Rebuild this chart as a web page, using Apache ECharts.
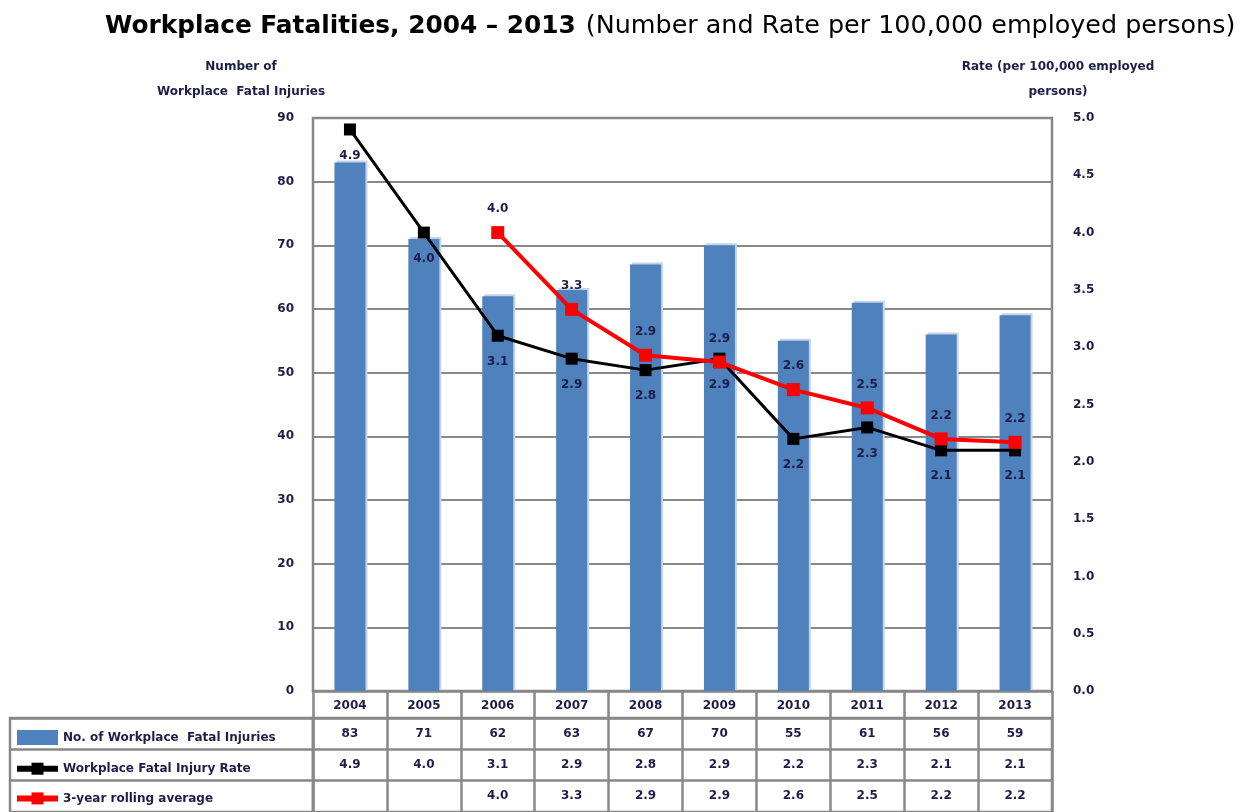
<!DOCTYPE html>
<html>
<head>
<meta charset="utf-8">
<title>Workplace Fatalities, 2004 – 2013</title>
<script src="https://cdn.jsdelivr.net/npm/echarts@6/dist/echarts.min.js"></script>
<style>
  html, body { margin: 0; padding: 0; background: #fff; }
  #chart { width: 1250px; height: 812px; }
</style>
</head>
<body>
<div id="chart"></div>
<script>
// values
var years = ['2004', '2005', '2006', '2007', '2008', '2009', '2010', '2011', '2012', '2013'];
var fatalInjuries = [83, 71, 62, 63, 67, 70, 55, 61, 56, 59];
var injuryRate = [4.9, 4.0, 3.1, 2.9, 2.8, 2.9, 2.2, 2.3, 2.1, 2.1];
var rollingAvg = [null, null, 4.0, 3.33, 2.93, 2.87, 2.63, 2.47, 2.2, 2.17];
var rowNames = ['No. of Workplace  Fatal Injuries', 'Workplace Fatal Injury Rate', '3-year rolling average'];
var countAxis = { min: 0, max: 90, interval: 10 };
var rateAxis = { min: 0, max: 5, interval: 0.5 };

var FONT = 'DejaVu Sans';
var INK = '#1d1d4a';
var GRAY = '#888888';

// table cells: [year index, row index, text]
var cells = [];
years.forEach(function (y, i) {
  cells.push([i, 0, String(fatalInjuries[i])]);
  cells.push([i, 1, injuryRate[i].toFixed(1)]);
  if (rollingAvg[i] != null) cells.push([i, 2, rollingAvg[i].toFixed(1)]);
});

var small = { fontFamily: FONT, fontSize: 12, fontWeight: 'bold', color: INK };

var chart = echarts.init(document.getElementById('chart'));
var option = {
  animation: false,
  title: {
    left: 100,
    top: 9,
    text: '{b|Workplace Fatalities, 2004 – 2013} {n|(Number and Rate per 100,000 employed persons)}',
    textStyle: {
      rich: {
        b: { fontFamily: FONT, fontSize: 24.8, fontWeight: 'bold', color: '#000' },
        n: { fontFamily: FONT, fontSize: 25.4, fontWeight: 'normal', color: '#000', padding: [0, 0, 0, 5] }
      }
    }
  },
  legend: {
    orient: 'vertical',
    left: 14,
    top: 730,
    padding: 0,
    itemWidth: 41,
    itemHeight: 15,
    itemGap: 17.7,
    selectedMode: false,
    data: [
      { name: rowNames[0], icon: 'rect' },
      { name: rowNames[1], lineStyle: { width: 6 } },
      { name: rowNames[2], lineStyle: { width: 6 } }
    ],
    textStyle: small
  },
  grid: [
    { left: 313, right: 198, top: 118, bottom: 121, show: true, borderColor: GRAY, borderWidth: 2.5 },
    { left: 313, right: 198, top: 718, height: 98, show: true, borderColor: GRAY, borderWidth: 2.5 },
    { left: 10, width: 303, top: 718, height: 98, show: true, borderColor: GRAY, borderWidth: 2.5 }
  ],
  xAxis: [
    {
      gridIndex: 0, type: 'category', data: years,
      axisLine: { lineStyle: { color: GRAY, width: 2.5 } },
      axisTick: { show: true, length: 27, interval: 0, lineStyle: { color: GRAY, width: 2.5 } },
      axisLabel: Object.assign({ margin: 9, interval: 0 }, small)
    },
    {
      gridIndex: 1, type: 'category', data: years,
      axisLine: { show: false }, axisTick: { show: false }, axisLabel: { show: false },
      splitLine: { show: true, interval: 0, lineStyle: { color: GRAY, width: 2.5 } }
    },
    { gridIndex: 2, type: 'value', show: false }
  ],
  yAxis: [
    {
      gridIndex: 0, type: 'value',
      min: countAxis.min, max: countAxis.max, interval: countAxis.interval,
      name: 'Number of\nWorkplace  Fatal Injuries',
      nameLocation: 'end', nameGap: 14,
      nameTextStyle: Object.assign({ align: 'center', lineHeight: 25, padding: [0, 144, 0, 0] }, small),
      axisLine: { show: false }, axisTick: { show: false },
      axisLabel: Object.assign({ margin: 19 }, small),
      splitLine: { lineStyle: { color: GRAY, width: 2 } }
    },
    {
      gridIndex: 0, type: 'value', position: 'right',
      min: rateAxis.min, max: rateAxis.max, interval: rateAxis.interval,
      name: 'Rate (per 100,000 employed\npersons)',
      nameLocation: 'end', nameGap: 14,
      nameTextStyle: Object.assign({ align: 'center', lineHeight: 25, padding: [0, 0, 0, 12] }, small),
      axisLine: { show: false }, axisTick: { show: false },
      axisLabel: Object.assign({ margin: 21, formatter: function (v) { return v.toFixed(1); } }, small),
      splitLine: { show: false }
    },
    {
      gridIndex: 1, type: 'category', data: rowNames, inverse: true,
      axisLine: { show: false }, axisTick: { show: false }, axisLabel: { show: false },
      splitLine: { show: true, interval: 0, lineStyle: { color: GRAY, width: 2.5 } }
    },
    {
      gridIndex: 2, type: 'category', data: rowNames, inverse: true,
      axisLine: { show: false }, axisTick: { show: false }, axisLabel: { show: false },
      splitLine: { show: true, interval: 0, lineStyle: { color: GRAY, width: 2.5 } }
    }
  ],
  series: [
    {
      name: rowNames[0],
      type: 'bar',
      data: fatalInjuries,
      barWidth: 31,
      itemStyle: { color: '#4f81bd', shadowColor: '#c6d3e8', shadowOffsetX: 2, shadowOffsetY: -2 }
    },
    {
      name: rowNames[1],
      type: 'line',
      yAxisIndex: 1,
      data: injuryRate,
      symbol: 'rect',
      symbolSize: 12,
      lineStyle: { color: '#000', width: 3 },
      itemStyle: { color: '#000' },
      label: Object.assign({ show: true, position: 'bottom', distance: 14, formatter: function (p) { return p.value.toFixed(1); } }, small),
      z: 3
    },
    {
      name: rowNames[2],
      type: 'line',
      yAxisIndex: 1,
      data: rollingAvg,
      symbol: 'rect',
      symbolSize: 13,
      lineStyle: { color: '#ff0000', width: 4 },
      itemStyle: { color: '#ff0000' },
      label: Object.assign({ show: true, position: 'top', distance: 11, formatter: function (p) { return p.value.toFixed(1); } }, small),
      z: 4
    },
    {
      name: 'table',
      type: 'scatter',
      xAxisIndex: 1,
      yAxisIndex: 2,
      data: cells,
      symbolSize: 0,
      silent: true,
      itemStyle: { opacity: 1 },
      label: Object.assign({ show: true, position: 'inside', formatter: function (p) { return p.value[2]; } }, small)
    }
  ]
};
chart.setOption(option);
</script>
</body>
</html>
